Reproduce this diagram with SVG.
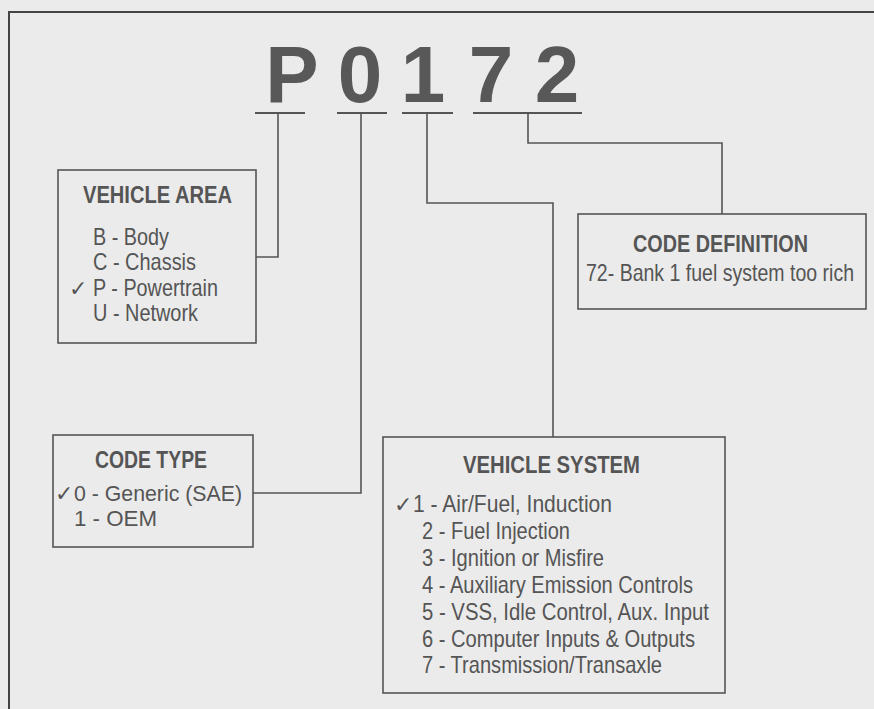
<svg xmlns="http://www.w3.org/2000/svg" width="874" height="709" viewBox="0 0 874 709">
<style>
.t{font-family:"Liberation Sans Narrow","Liberation Sans",Arial,sans-serif;font-size:24px;fill:#555;}
.s{font-size:22px;}
.h{font-family:"Liberation Sans Narrow","Liberation Sans",Arial,sans-serif;font-size:24px;font-weight:bold;fill:#555;}
.ck{font-family:"DejaVu Sans",sans-serif;font-size:22px;fill:#555;}
.big{font-family:"Liberation Sans",Arial,sans-serif;font-size:80px;font-weight:bold;fill:#585858;text-anchor:middle;}
.box{fill:none;stroke:#555;stroke-width:1.6;}
.ln{fill:none;stroke:#555;stroke-width:1.6;}
.ul{fill:none;stroke:#555;stroke-width:2;}
</style>
<rect x="0" y="0" width="874" height="709" fill="#ebebeb"/>
<rect x="9" y="12" width="900" height="800" fill="none" stroke="#444" stroke-width="2"/>

<g id="code">
<text class="big" x="292" y="102">P</text>
<text class="big" x="360" y="102">0</text>
<text class="big" x="423" y="102">1</text>
<text class="big" x="491" y="102">7</text>
<text class="big" x="557" y="102">2</text>
</g>

<g id="connectors">
<path class="ul" d="M255 113H305M337 113H387M402 113H453M473 113H582"/>
<path class="ln" d="M278 113V257H256"/>
<path class="ln" d="M361 113V493H253"/>
<path class="ln" d="M427 113V203H553V437"/>
<path class="ln" d="M528 113V143H722V214"/>
</g>

<g id="vehicle-area">
<rect class="box" x="58" y="170" width="198" height="173"/>
<text class="h" x="83" y="203" textLength="149" lengthAdjust="spacingAndGlyphs">VEHICLE AREA</text>
<text class="t" x="93" y="245" textLength="76" lengthAdjust="spacingAndGlyphs">B - Body</text>
<text class="t" x="93" y="270" textLength="103" lengthAdjust="spacingAndGlyphs">C - Chassis</text>
<text class="ck" x="69" y="296">✓</text>
<text class="t" x="93" y="296" textLength="125" lengthAdjust="spacingAndGlyphs">P - Powertrain</text>
<text class="t" x="93" y="321" textLength="105" lengthAdjust="spacingAndGlyphs">U - Network</text>
</g>

<g id="code-type">
<rect class="box" x="53" y="435" width="200" height="112"/>
<text class="h" x="95" y="468" textLength="112" lengthAdjust="spacingAndGlyphs">CODE TYPE</text>
<text class="ck" x="55" y="501">✓</text>
<text class="t s" x="74" y="501" textLength="168" lengthAdjust="spacingAndGlyphs">0 - Generic (SAE)</text>
<text class="t s" x="74" y="526" textLength="83" lengthAdjust="spacingAndGlyphs">1 - OEM</text>
</g>

<g id="vehicle-system">
<rect class="box" x="383" y="437" width="342" height="256"/>
<text class="h" x="463" y="473" textLength="177" lengthAdjust="spacingAndGlyphs">VEHICLE SYSTEM</text>
<text class="ck" x="394" y="512">✓</text>
<text class="t" x="413" y="512" textLength="199" lengthAdjust="spacingAndGlyphs">1 - Air/Fuel, Induction</text>
<text class="t" x="422" y="539" textLength="148" lengthAdjust="spacingAndGlyphs">2 - Fuel Injection</text>
<text class="t" x="422" y="566" textLength="182" lengthAdjust="spacingAndGlyphs">3 - Ignition or Misfire</text>
<text class="t" x="422" y="593" textLength="271" lengthAdjust="spacingAndGlyphs">4 - Auxiliary Emission Controls</text>
<text class="t" x="422" y="620" textLength="287" lengthAdjust="spacingAndGlyphs">5 - VSS, Idle Control, Aux. Input</text>
<text class="t" x="422" y="647" textLength="273" lengthAdjust="spacingAndGlyphs">6 - Computer Inputs &amp; Outputs</text>
<text class="t" x="422" y="673" textLength="240" lengthAdjust="spacingAndGlyphs">7 - Transmission/Transaxle</text>
</g>

<g id="code-definition">
<rect class="box" x="578" y="214" width="288" height="95"/>
<text class="h" x="633" y="252" textLength="175" lengthAdjust="spacingAndGlyphs">CODE DEFINITION</text>
<text font-family="Liberation Sans, Arial, sans-serif" font-size="23" fill="#555" transform="translate(586 281) scale(0.849 1)">72- Bank 1 fuel system too rich</text>
</g>
</svg>
